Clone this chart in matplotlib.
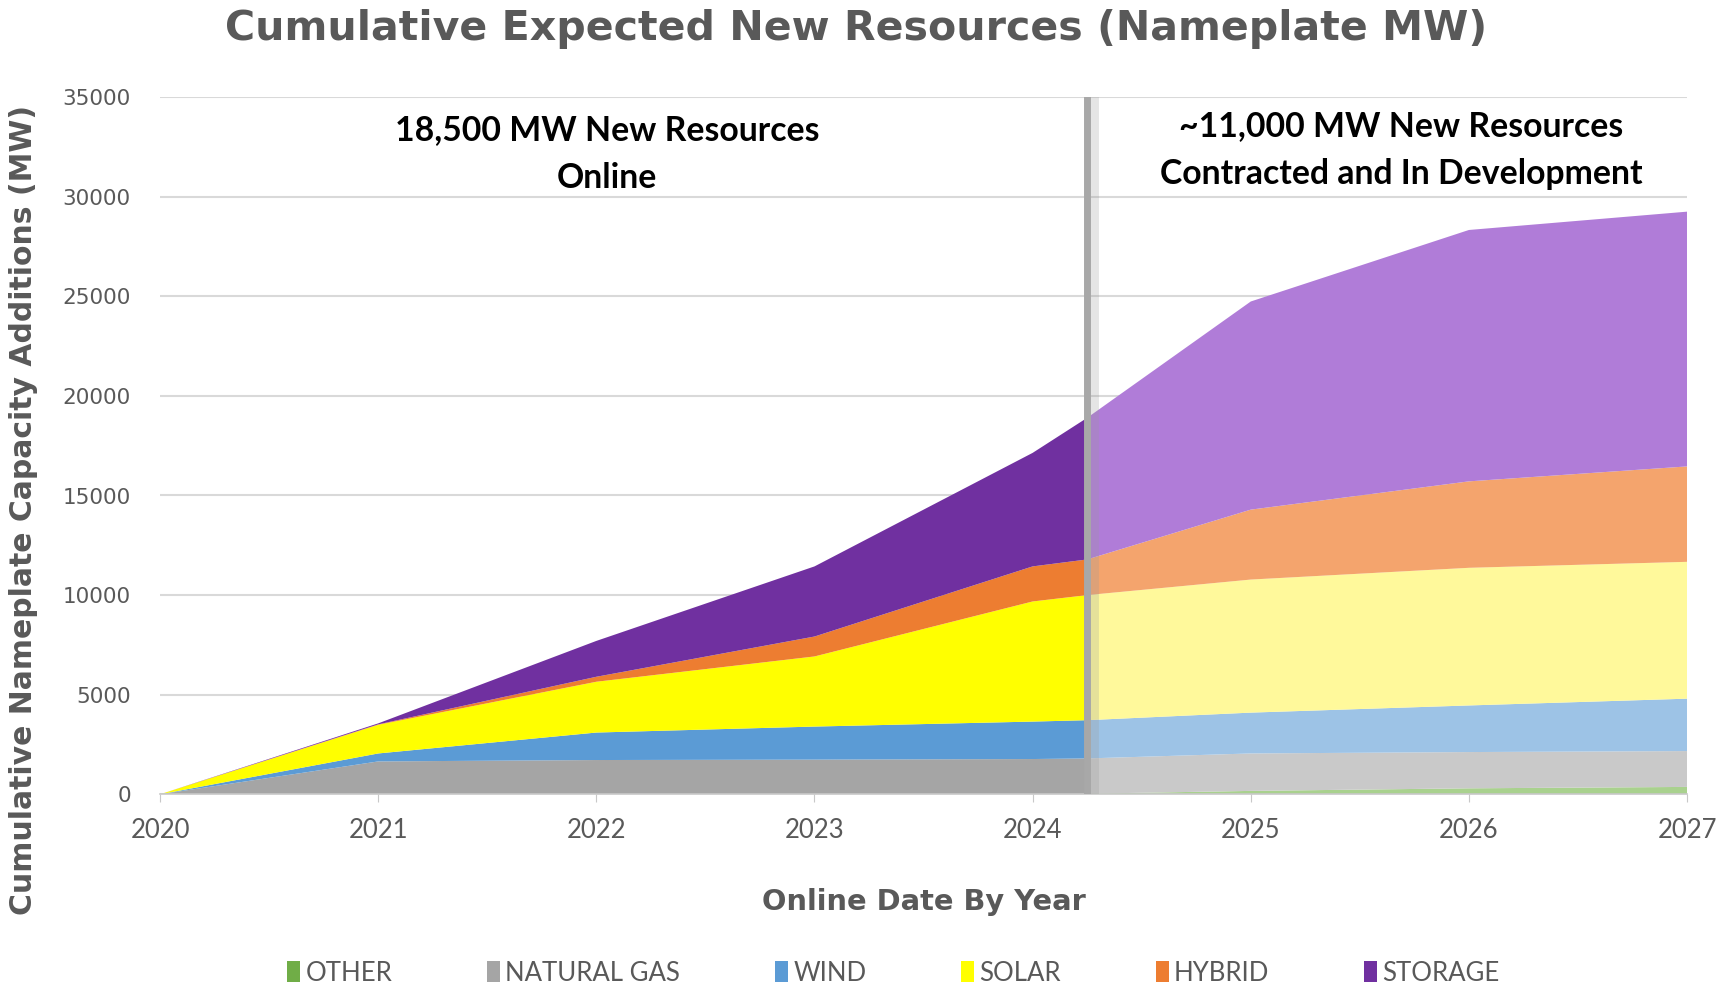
import matplotlib
matplotlib.use("Agg")
import matplotlib.pyplot as plt
from matplotlib.patches import Patch

# ---------------- data ----------------
categories = ["OTHER", "NATURAL GAS", "WIND", "SOLAR", "HYBRID", "STORAGE"]

# Online resources (solid colours)
years_online = [2020, 2021, 2022, 2023, 2024, 2024.25]
other_online = [0, 0, 0, 0, 0, 0]
gas_online = [0, 1650, 1720, 1740, 1770, 1800]
wind_online = [0, 400, 1380, 1660, 1880, 1920]
solar_online = [0, 1440, 2550, 3520, 6030, 6280]
hybrid_online = [0, 20, 250, 1000, 1760, 1790]
storage_online = [0, 50, 1800, 3520, 5700, 7110]

# Contracted / in development (light colours)
years_dev = [2024.25, 2025, 2026, 2027]
other_dev = [30, 170, 300, 370]
gas_dev = [1770, 1880, 1820, 1800]
wind_dev = [1920, 2050, 2340, 2630]
solar_dev = [6280, 6680, 6910, 6870]
hybrid_dev = [1790, 3510, 4340, 4790]
storage_dev = [7110, 10450, 12620, 12790]

split_year = 2024.25
year_ticks = [2020, 2021, 2022, 2023, 2024, 2025, 2026, 2027]
y_ticks = [0, 5000, 10000, 15000, 20000, 25000, 30000, 35000]

dark_colors = ["#70ad47", "#a5a5a5", "#5b9bd5", "#ffff00", "#ed7d31", "#7030a0"]
light_colors = ["#a9d18e", "#c9c9c9", "#9dc3e6", "#fff99b", "#f4a46d", "#b07cd8"]

TXT = "#595959"

fig = plt.figure(figsize=(17.25, 9.91), dpi=100)
ax = fig.add_axes([0.0928, 0.1985, 0.8852, 0.7035])

ax.stackplot(years_online, other_online, gas_online, wind_online, solar_online,
             hybrid_online, storage_online, colors=dark_colors, linewidth=0, zorder=2)
ax.stackplot(years_dev, other_dev, gas_dev, wind_dev, solar_dev,
             hybrid_dev, storage_dev, colors=light_colors, linewidth=0, zorder=2)

# separator line with soft shadow
ax.axvline(split_year + 0.02, color="#9a9a9a", lw=10, zorder=3, alpha=0.25)
ax.axvline(split_year, color="#a8a8a8", lw=5, zorder=4)

ax.set_xlim(2020, 2027)
ax.set_ylim(0, 35000)
ax.set_xticks(year_ticks)
ax.set_yticks(y_ticks)
ax.set_xticklabels([str(y) for y in year_ticks], fontfamily="Lato", fontsize=18.5, color=TXT)
ax.set_yticklabels([str(v) for v in y_ticks], fontfamily="DejaVu Sans", fontsize=15.5, color=TXT)
ax.grid(axis="y", color="#d9d9d9", lw=1.5, zorder=0)
ax.set_axisbelow(True)
for s in ["top", "right", "left"]:
    ax.spines[s].set_visible(False)
ax.spines["bottom"].set_color("#c8c8c8")
ax.spines["bottom"].set_linewidth(1.2)
ax.tick_params(axis="y", length=0, pad=21)
ax.tick_params(axis="x", length=6, color="#c8c8c8", pad=11, direction="out")

# texts
fig.text(856 / 1725, 1 - 29 / 991, "Cumulative Expected New Resources (Nameplate MW)",
         ha="center", va="center", fontsize=29.6, fontweight="bold", color=TXT,
         fontfamily="DejaVu Sans")
fig.text(24 / 1725, 1 - 510 / 991, "Cumulative Nameplate Capacity Additions (MW)",
         ha="center", va="center", rotation=90, fontsize=21.5, fontweight="bold",
         color=TXT, fontfamily="DejaVu Sans")
fig.text(924 / 1725, 1 - 902 / 991, "Online Date By Year", ha="center", va="center",
         fontsize=20.8, fontweight="bold", color=TXT, fontfamily="DejaVu Sans")

fig.text(607 / 1725, 1 - 154 / 991, "18,500 MW New Resources\nOnline", ha="center",
         va="center", fontsize=24.3, fontweight="bold", color="black", fontfamily="Lato",
         linespacing=1.6)
fig.text(1401 / 1725, 1 - 150 / 991, "~11,000 MW New Resources\nContracted and In Development",
         ha="center", va="center", fontsize=24.3, fontweight="bold", color="black",
         fontfamily="Lato", linespacing=1.6)

handles = [Patch(facecolor=c, edgecolor="none") for c in dark_colors]
fig.legend(handles, categories, loc="center", bbox_to_anchor=(0.518, 0.018), ncol=6,
           frameon=False, prop={"family": "Lato", "size": 18.5}, labelcolor=TXT,
           handlelength=0.5, handleheight=0.9, handletextpad=0.2, columnspacing=3.7)

fig.savefig("out.png", dpi=100)
